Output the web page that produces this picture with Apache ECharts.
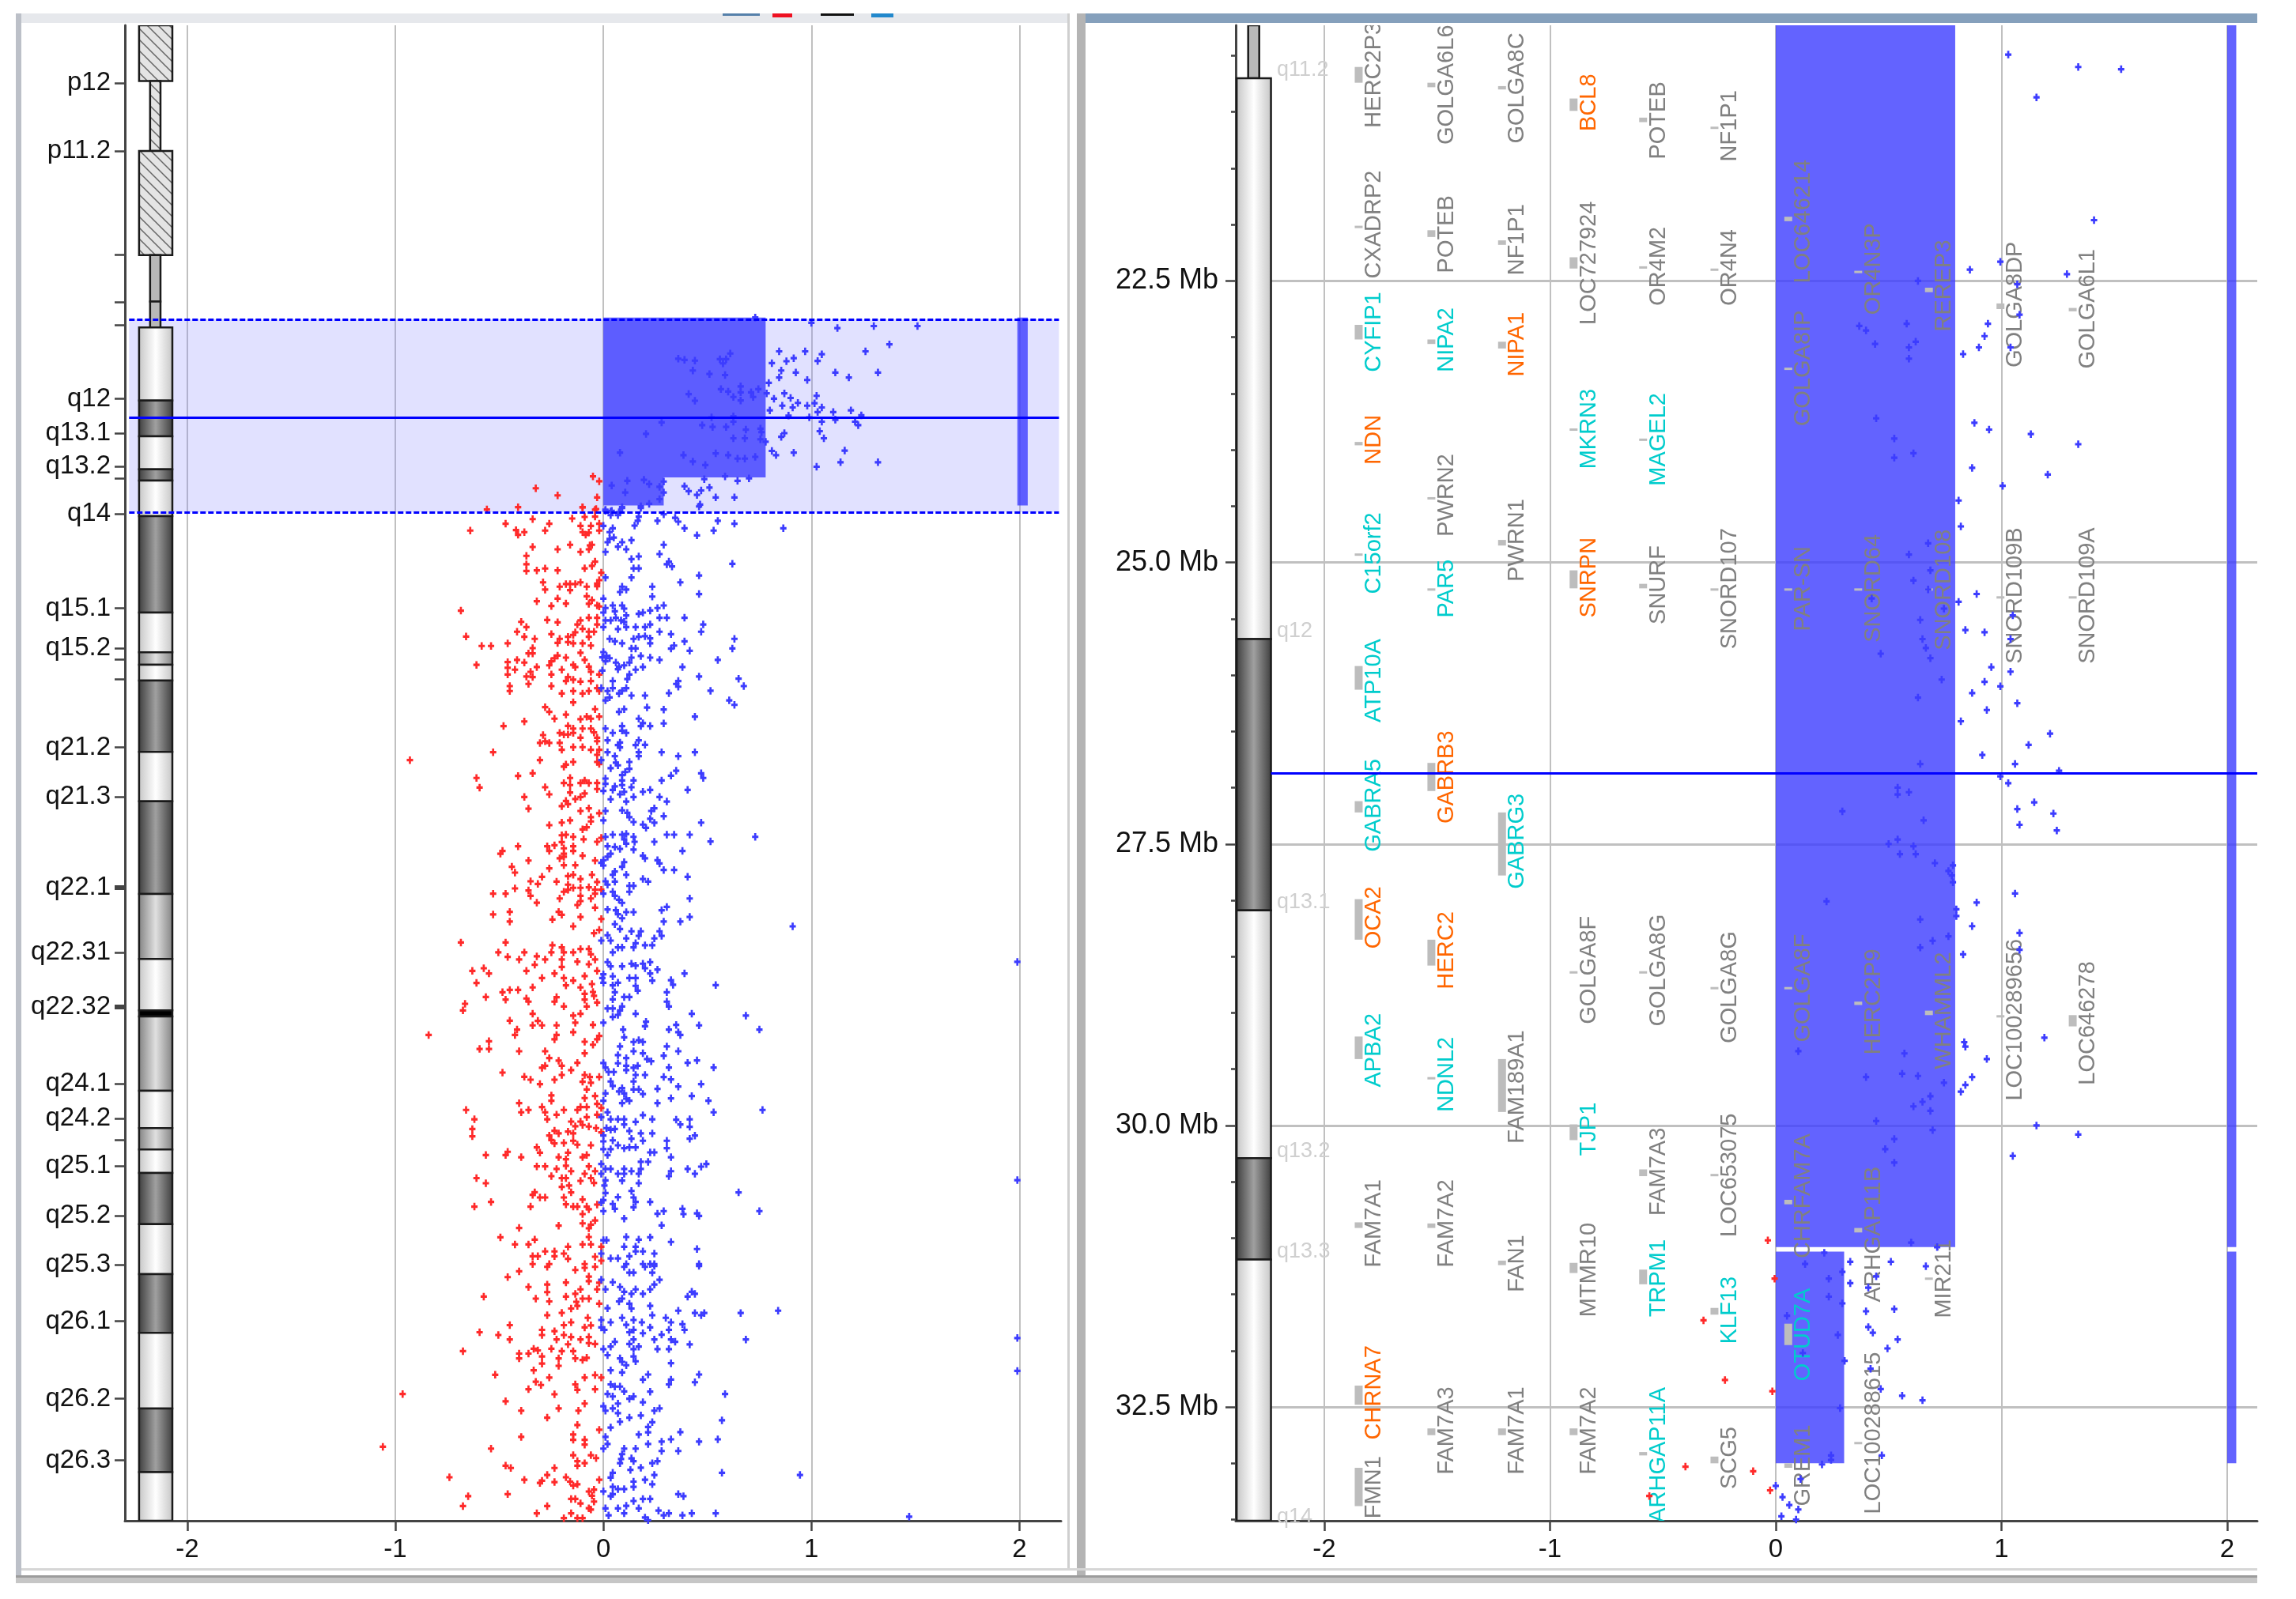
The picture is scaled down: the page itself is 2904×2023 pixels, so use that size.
<!DOCTYPE html>
<html>
<head>
<meta charset="utf-8">
<title>chr15 copy number</title>
<script src="https://cdn.jsdelivr.net/npm/echarts@6/dist/echarts.min.js"></script>
<style>
  html, body { margin: 0; padding: 0; background: #fff; }
  #chart { width: 2904px; height: 2023px; }
</style>
</head>
<body>
<div id="chart"></div>
<script>
// --- data: [log2 ratio, position in Mb] ---
var leftRed = [
[-.56,33.31],[-.41,33.15],[-.10,33.15],[-.04,33.33],[-.04,33.8],[-.34,33.97],[-.15,33.93],[-.09,33.82],[-.47,34.29],[-.26,34.29],[-.11,34.44],[-.06,34.44],[-.02,34.29],[-.64,34.76],[-.42,34.73],[-.38,34.87],[-.41,35.05],[-.28,34.76],[-.10,34.87],[-.085,35.05],[-.07,34.9],[-.02,34.76],[-.34,35.89],[-.22,36.05],[-.16,35.74],[-.11,36.23],[-.07,36.05],[-.065,35.78],[-.055,35.74],[-.37,36.5],[-.37,37.08],[-.37,37.54],[-.32,37.5],[-.28,37.37],[-.22,37.5],[-.09,37.36],[-.055,37.19],[-.04,36.9],[-.01,37.66],[-.29,38.32],[-.28,38.82],[-.21,38.62],[-.18,38.44],[-.16,38.44],[-.16,38.86],[-.135,38.44],[-.11,38.32],[-.08,38.62],[-.03,38.41],[-.02,38.17],[-.03,38.59],[-.08,39.28],[-.22,39.44],[-.32,39.62],[-.25,39.95],[-.18,39.78],[-.055,39.55],[-.07,39.8],[-.03,39.91],[-.02,39.98],[-.685,40.27],[-.27,40.91],[-.22,41.07],[-.395,41.04],[-.37,41.4],[-.07,40.76],[-.03,40.76],[-.11,40.94],[-.125,41.22],[-.03,41.22],[-.10,41.52],[-.415,41.72],[-.25,41.89],[-.135,41.76],[-.145,41.94],[-.17,42.07],[-.07,41.72],[-.045,41.72],[-.07,42.07],[-.38,42.07],[-.33,42.21],[-.66,42.05],[-.21,42.21],[-.22,42.49],[-.17,42.43],[-.145,42.52],[-.10,42.52],[-.06,42.67],[-.585,42.7],[-.54,42.7],[-.46,42.52],[-.34,42.85],[-.36,43.21],[-.34,43.21],[-.11,43.17],[-.22,43.36],[-.235,43.54],[-.25,43.75],[-.26,44.03],[-.18,43.5],[-.09,43.66],[-.415,43.66],[-.46,43.81],[-.38,43.84],[-.61,44.0],[-.32,44.15],[-.145,44.0],[-.135,44.15],[-.07,44.12],[-.06,44.48],[-.46,44.2],[-.425,44.33],[-.46,44.66],[-.20,44.33],[-.02,44.66],[-.25,44.66],[-.35,44.48],[-.37,44.8],[-.34,44.84],[-.17,44.84],[-.145,45.02],[-.18,45.11],[-.11,45.15],[-.06,45.11],[-.36,45.31],[-.45,45.46],[-.45,45.8],[-.25,45.46],[-.20,45.97],[-.145,45.8],[-.10,45.97],[-.07,45.8],[-.03,45.6],[-.02,45.8],[-.145,46.58],[-.28,46.91],[-.26,47.23],[-.235,47.7],[-.18,47.42],[-.04,47.05],[-.02,47.56],[-.08,47.56],[-.11,47.74],[-.06,47.7],[-.38,47.89],[-.48,48.21],[-.17,48.2],[-.145,48.38],[-.10,48.38],[-.06,48.38],[-.045,48.65],[-.21,48.68],[-.19,48.79],[-.17,48.79],[-.145,48.68],[-.29,48.83],[-.03,49.01],[-.11,49.01],[-.28,49.25],[-.305,49.37],[-.26,49.37],[-.21,49.37],[-.03,49.25],[-.53,50.01],[-.20,49.84],[-.145,49.66],[-.10,49.66],[-.06,49.84],[-.02,49.84],[-.03,50.19],
[-.93,50.55],[-.305,50.55],[-.145,50.68],[-.18,50.86],[-.03,50.68],[-.02,50.82],[-.19,51.0],[-.34,51.46],[-.41,51.64],[-.61,51.78],[-.595,52.44],[-.16,51.78],[-.19,52.13],[-.16,52.27],[-.11,52.13],[-.09,51.95],[-.07,52.13],[-.03,52.13],[-.03,52.54],[-.28,52.42],[-.26,52.91],[-.16,52.78],[-.09,52.85],[-.11,53.09],[-.135,53.23],[-.38,53.09],[-.18,53.36],[-.17,53.58],[-.20,53.72],[-.36,53.89],[-.07,53.87],[-.11,54.05],[-.02,54.21],[-.06,54.48],[-.06,54.77],[-.16,54.7],[-.20,54.85],[-.26,55.03],[-.08,55.17],[-.10,55.32],[-.20,55.72],[-.18,55.68],[-.145,55.83],[-.095,56.0],[-.20,56.19],[-.01,55.9],[-.03,56.17],[-.41,56.48],[-.145,56.48],[-.27,56.48],[-.235,56.41],[-.26,56.8],[-.19,56.62],[-.145,56.8],[-.485,56.8],[-.495,56.99],[-.19,56.99],[-.10,57.13],[-.19,57.2],[-.21,57.31],[-.36,57.46],[-.04,57.46],[-.19,57.78],[-.135,57.78],[-.44,57.89],[-.425,58.29],[-.26,58.0],[-.055,58.44],[-.145,58.44],[-.17,58.53],[-.295,58.58],[-.35,58.89],[-.225,58.91],[-.315,59.07],[-.17,59.12],[-.11,58.73],[-.03,58.94],[-.425,59.38],[-.36,59.52],[-.53,59.74],[-.47,59.74],[-.35,59.89],[-.17,59.47],[-.145,59.34],[-.11,59.34],[-.07,59.3],[-.04,59.47],[-.01,59.47],[-.19,59.61],[-.21,60.07],[-.11,59.89],[-.06,60.07],[-.04,59.74],[-.11,60.25],[-.32,60.36],[-.125,60.52],[-.04,60.7],[-.45,60.99],[-.53,61.17],[-.215,60.99],[-.20,61.19],[-.11,61.34],[-.245,61.52],[-.01,61.48],[-.45,61.66],[-.145,61.99],[-.02,62.24],[-.045,62.46],[-.685,63.1],[-.47,63.1],[-.245,63.29],[-.20,63.44],[-.19,63.78],[-.25,63.78],[-.145,63.78],[-.11,63.55],[-.07,63.55],[-.06,63.91],[-.505,63.78],[-.38,63.78],[-.46,64.09],[-.32,64.05],[-.405,64.27],[-.28,64.27],[-.04,64.27],[-.20,64.27],[-.125,64.42],[-.33,64.63],[-.20,64.78],[-.07,64.6],[-.575,64.87],[-.63,65.05],[-.55,65.23],[-.37,65.05],[-.03,65.05],[-.235,65.23],[-.09,65.41],[-.295,65.54],[-.19,65.54],[-.145,65.72],[-.61,65.88],[-.18,66.05],[-.055,65.96],[-.11,66.19],[-.34,66.19],[-.45,66.36],[-.41,66.36],[-.485,66.52],[-.09,66.63],[-.05,66.5],[-.045,66.77],[-.565,66.85],[-.47,67.03],[-.37,66.95],[-.36,67.17],[-.225,66.86],[-.235,67.17],[-.09,67.03],[-.03,67.23],[-.665,67.32],[-.19,67.5],[-.08,67.5],[-.675,67.77],
[-.34,68.0],[-.145,68.13],[-.11,68.0],[-.45,68.48],[-.315,68.49],[-.135,68.62],[-.34,68.8],[-.295,68.8],[-.225,68.8],[-.05,68.77],[-.415,69.09],[-.425,69.46],[-.84,69.46],[-.145,69.27],[-.225,69.46],[-.235,69.76],[-.02,69.53],[-.03,69.76],[-.55,69.89],[-.595,70.42],[-.55,70.42],[-.09,69.93],[-.05,70.13],[-.405,70.58],[-.28,70.58],[-.09,70.72],[-.26,71.05],[-.215,71.23],[-.20,71.58],[-.28,71.58],[-.295,71.72],[-.125,71.38],[-.155,71.88],[-.485,72.05],[-.20,72.21],[-.38,72.34],[-.35,72.54],[-.235,72.54],[-.09,72.21],[-.065,72.35],[-.02,72.35],[-.10,72.68],[-.06,72.75],[-.305,72.84],[-.08,73.21],[-.25,73.62],[-.25,73.99],[-.09,73.8],[-.04,73.66],[-.03,74.2],[-.405,74.15],[-.66,74.62],[-.36,74.62],[-.295,74.42],[-.395,74.78],[-.28,74.78],[-.19,74.62],[-.125,74.62],[-.11,74.42],[-.08,74.42],[-.01,74.48],[-.225,74.95],[-.03,74.95],[-.08,75.11],[-.62,75.26],[-.27,75.26],[-.155,75.42],[-.11,75.42],[-.63,75.93],[-.135,75.74],[-.10,75.65],[-.07,75.76],[-.035,75.87],[-.235,76.05],[-.215,76.23],[-.17,76.11],[-.145,76.23],[-.26,76.38],[-.63,76.43],[-.01,76.16],[-.25,76.69],[-.145,76.74],[-.235,76.92],[-.19,76.89],[-.125,77.01],[-.06,77.05],[-.32,77.19],[-.305,77.56],[-.17,77.56],[-.565,77.72],[-.47,77.72],[-.46,77.5],[-.395,77.87],[-.215,77.87],[-.10,77.87],[-.08,77.72],[-.18,78.01],[-.07,78.5],[-.32,78.5],[-.28,78.5],[-.18,78.46],[-.225,78.68],[-.155,78.83],[-.04,78.83],[-.09,79.01],[-.25,79.17],[-.20,79.31],[-.18,79.31],[-.61,79.31],[-.565,79.66],[-.11,79.5],[-.06,79.31],[-.045,79.64],[-.20,79.91],[-.165,79.82],[-.155,80.29],[-.33,80.28],[-.34,80.46],[-.305,80.64],[-.28,80.64],[-.19,80.64],[-.10,80.78],[-.54,80.95],[-.62,81.27],[-.35,81.27],[-.18,81.11],[-.145,81.27],[-.125,81.27],[-.08,81.27],[-.07,81.45],[-.03,81.13],[-.10,81.78],[-.10,82.42],[-.04,82.22],[-.06,82.51],[-.07,82.76],[-.215,82.58],[-.405,82.74],[-.495,83.38],[-.33,83.54],[-.07,83.36],[-.425,83.87],[-.36,83.87],[-.17,84.03],[-.10,83.87],[-.06,83.87],[-.01,84.03],[-.28,84.35],[-.235,84.35],[-.19,84.5],[-.235,84.68],[-.34,84.68],[-.315,84.68],[-.17,84.86],[-.04,84.72],[-.01,84.99],[-.34,85.22],[-.26,85.22],[-.09,85.22],
[-.27,85.41],[-.405,85.72],[-.135,85.63],[-.09,85.48],[-.04,85.41],[-.46,86.12],[-.07,86.08],[-.07,86.4],[-.02,86.51],[-.18,86.49],[-.36,86.8],[-.27,86.63],[-.27,87.15],[-.11,86.96],[-.03,86.96],[-.135,87.27],[-.575,87.46],[-.325,87.6],[-.18,87.46],[-.10,87.6],[-.07,87.6],[-.26,87.79],[-.13,87.82],[-.02,87.95],[-.125,88.1],[-.155,88.28],[-.20,88.58],[-.27,88.74],[-.075,88.92],[-.45,89.42],[-.155,89.23],[-.19,89.42],[-.09,89.58],[-.06,89.44],[-.295,89.75],[-.235,89.84],[-.595,89.91],[-.295,90.1],[-.505,90.1],[-.19,90.1],[-.155,90.24],[-.07,90.24],[-.45,90.41],[-.225,90.41],[-.11,90.41],[-.17,90.74],[-.07,90.66],[-.04,90.72],[-.675,91.21],[-.25,91.05],[-.335,91.05],[-.315,91.16],[-.20,91.21],[-.145,91.21],[-.405,91.38],[-.36,91.38],[-.295,91.58],[-.405,91.71],[-.215,91.71],[-.135,91.71],[-.10,91.82],[-.08,91.67],[-.295,92.07],[-.215,92.22],[-.335,92.53],[-.52,92.84],[-.26,93.03],[-.09,93.03],[-.04,92.86],[-.01,93.03],[-.325,93.32],[-.30,93.54],[-.135,93.5],[-.125,93.87],[-.36,93.83],[-.04,93.83],[-.965,94.16],[-.235,94.18],[-.47,94.66],[-.09,94.82],[-.215,95.15],[-.395,95.31],[-.12,95.31],[-.27,95.79],[-.125,96.29],[-.02,96.62],[-.145,96.95],[-.395,97.11],[-.145,97.31],[-.09,97.31],[-.09,97.64],[-.54,97.92],[-1.06,97.79],[-.145,98.37],[-.06,98.37],[-.035,98.57],[-.125,98.78],[-.09,98.92],[-.125,99.09],[-.47,99.09],[-.445,99.25],[-.235,99.25],[-.27,99.73],[-.74,99.89],[-.18,99.89],[-.38,100.06],[-.295,100.13],[-.02,100.06],[-.235,100.22],[-.16,100.19],[-.305,100.28],[-.145,100.46],[-.125,100.37],[-.045,100.74],[-.07,100.87],[-.055,101.16],[-.46,101.05],[-.65,101.19],[-.155,101.38],[-.135,101.38],[-.045,101.56],[-.11,101.69],[-.675,101.87],[-.27,101.87],[-.07,102.02],[-.06,102.11],[-.32,102.37],[-.155,102.37],[-.19,102.7],[-.125,102.7],[-.10,102.7],
[-.05,31.03],[-.02,31.37],[-.325,31.85],[-.22,32.34],[-.03,32.48],[-.10,33.16],[-.035,33.28]
];
var leftBlue = [
[.73,20.1],[1.0,20.47],[1.125,20.83],[1.30,20.69],[1.51,20.69],[1.375,21.95],[1.26,22.43],[.845,22.43],[.97,22.43],[1.05,22.63],[.61,22.58],[.36,22.94],[.39,23.02],[.44,23.07],[.56,22.97],[.59,22.97],[.575,23.26],[.81,23.24],[.88,23.11],[.915,22.9],[1.03,23.09],[.43,23.75],[.51,23.99],[.585,24.06],[.855,23.75],[.925,23.89],[1.115,23.89],[1.32,23.89],[.845,24.23],[.98,24.4],[1.18,24.23],[.795,24.6],[.565,25.03],[.60,25.2],[.66,24.84],[.66,25.25],[.71,25.25],[.745,25.03],[.625,25.57],[.66,25.81],[.72,25.57],[.41,25.37],[.44,25.83],[.785,25.32],[.87,25.32],[.82,25.69],[.90,25.64],[1.025,25.49],[.86,26.17],[.91,26.29],[.935,25.98],[.98,26.17],[1.015,26.0],[1.05,26.29],[.80,26.49],[1.03,26.61],[1.105,26.61],[1.19,26.49],[1.24,26.83],[.89,26.85],[.99,26.97],[1.05,27.27],[1.115,27.14],[1.21,27.27],[1.225,27.51],[.28,27.32],[.52,26.97],[.625,26.9],[.625,27.27],[.475,27.51],[.525,27.63],[.59,27.63],[.685,27.82],[.755,27.75],[.76,27.99],[.205,28.11],[.87,28.06],[.855,28.31],[1.04,27.92],[1.06,28.41],[.625,28.41],[.68,28.41],[.755,28.48],[.78,28.65],[.08,29.4],[.385,29.57],[.54,29.45],[.60,29.57],[.645,29.81],[.68,29.81],[.73,29.69],[.81,29.28],[.83,29.57],[.915,29.4],[1.16,29.26],[1.14,30.06],[1.32,30.06],[.43,30.01],[.49,30.25],[1.025,30.37],[.115,31.34],[.04,31.66],[.195,31.27],[.22,31.56],[.29,31.39],[.27,31.75],[.39,31.71],[.41,32.05],[.485,31.22],[.51,31.8],[.585,31.03],[.645,31.34],[.70,31.17],[.105,32.14],[.29,32.14],[.47,32.0],[.45,32.31],[.54,32.48],[.63,32.48],[.27,32.6],[.465,32.97],[.22,32.92],[.18,33.09],[.09,33.21],[.01,33.4],[.04,33.4],[.08,33.5],
[.01,33.33],[.035,33.46],[.075,33.5],[.09,33.15],[.18,33.2],[.46,33.1],[.035,33.7],[.07,33.7],[.17,33.8],[.29,33.64],[.345,33.88],[.26,34.09],[.36,34.15],[.55,34.09],[.63,34.29],[.165,34.09],[.15,34.42],[0,34.44],[.045,34.6],[.39,34.6],[.865,34.6],[.53,34.76],[.03,34.87],[.45,35.09],[.05,35.24],[.03,35.33],[.02,35.56],[.135,35.42],[.09,35.56],[.07,35.87],[.11,36.05],[.29,35.74],[.01,36.23],[.27,36.38],[.17,36.54],[.135,36.72],[.315,36.9],[.305,37.08],[.33,37.23],[.62,37.05],[.145,37.36],[.17,37.36],[.46,37.85],[.01,37.99],[.135,37.99],[.37,38.32],[.235,38.62],[.09,38.62],[.11,38.82],[.08,38.99],[.46,39.13],[.235,39.3],[0,39.44],[.01,40.09],[.045,39.91],[.09,39.91],[.10,40.13],[0,40.4],[.055,40.31],[.17,40.49],[.19,40.4],[.225,40.26],[.26,40.09],[.29,39.91],[.11,40.6],[.06,40.76],[.27,40.76],[.305,40.76],[.39,40.76],[.01,40.94],[.035,40.94],[.085,40.94],[0,41.4],[.10,41.04],[.48,41.22],[.07,41.54],[.11,41.4],[.155,41.4],[.20,41.4],[.225,41.22],[.27,41.72],[.325,41.89],[.47,41.72],[.03,42.21],[.055,42.38],[.09,42.52],[.145,42.21],[.17,42.07],[.20,42.03],[.225,42.18],[.225,42.52],[.39,42.38],[.63,42.21],[.34,42.67],[.325,42.88],[.415,43.03],[.62,42.87],[.135,42.87],[.155,42.87],[0,43.12],[-.005,43.48],[.015,43.39],[.03,43.54],[.01,43.75],[.18,43.39],[.135,43.5],[.225,43.5],[.27,43.66],[.125,43.84],[.55,43.66],[.06,43.84],[.075,44.12],[.10,44.03],[.07,44.3],[.19,44.15],[.155,44.33],[.38,44.15],[-.005,44.39],[.125,44.66],[.46,44.8],[.65,44.95],[.115,44.98],[.045,45.11],[.36,45.11],[.35,45.31],[.36,45.5],[.675,45.46],[-.01,45.6],[.045,45.6],[.02,45.8],[.11,45.6],[.09,45.78],[.075,45.97],[.135,46.11],[.20,46.11],[.315,45.95],[.515,45.78],[.03,46.24],[.01,46.44],[.605,46.44],[.63,46.75],[.10,47.05],[.075,47.23],[.21,46.93],[.29,47.07],[.44,47.56],[.17,47.7],[.19,48.01],[.18,48.21],[.225,48.21],[.29,48.03],[.09,48.21],[.01,48.38],[.09,48.52],[.11,48.68],[.045,48.68],[.17,49.19],[.02,49.19],[.08,49.34],[.155,49.52],[.07,49.52],[.08,49.68],[.20,49.5],[.02,50.01],[.17,50.01],[.28,50.01],[.44,50.01],[.055,50.28],[.17,50.28],[.36,50.28],
[.06,50.73],[.07,50.91],[.125,50.68],[-.01,50.55],[.035,51.11],[.125,51.15],[.105,51.37],[.09,51.58],[.35,51.28],[.325,51.62],[.47,51.46],[.48,51.78],[.01,51.82],[.09,51.95],[.145,51.95],[.28,51.95],[.01,52.18],[.09,52.27],[.135,52.42],[.055,52.36],[.405,52.6],[0,52.67],[.045,52.6],[.10,52.73],[.08,52.91],[.19,52.73],[.225,52.6],[.145,53.09],[.27,53.09],[.035,53.25],[.11,53.4],[.305,53.4],[.01,54.05],[.09,54.01],[.245,53.87],[.23,54.05],[.115,54.18],[.125,54.48],[.29,54.41],[.225,54.59],[0,54.7],[.145,54.81],[.245,54.86],[.47,54.85],[.19,54.99],[.205,55.21],[.01,55.83],[.045,55.68],[.09,55.68],[.11,55.63],[.145,55.83],[.305,55.68],[.34,55.68],[.415,55.68],[.73,55.83],[.10,56.0],[.15,56.17],[.245,56.17],[.515,56.15],[.11,56.3],[.145,56.71],[.02,56.48],[.055,56.53],[.08,56.66],[.38,56.8],[.035,56.99],[.02,57.2],[0,57.44],[-.01,57.62],[0,57.8],[.10,57.57],[.09,57.89],[.19,57.13],[.20,57.31],[.26,57.44],[.27,57.66],[.29,58.11],[.34,58.11],[.405,58.58],[.055,58.22],[.045,58.44],[.11,58.44],[.19,58.73],[.215,58.91],[.01,58.89],[.02,59.12],[.055,58.91],[.125,59.2],[.145,59.2],[.125,59.61],[0,59.74],[.045,59.61],[.055,59.89],[.075,60.16],[.09,60.37],[.415,60.07],[.305,60.65],[.28,60.88],[.02,60.83],[.06,60.88],[.11,61.01],[.145,61.01],[.07,61.15],[.09,61.43],[.415,61.34],[.29,61.66],[.37,61.66],[.91,61.99],[.055,61.84],[.08,62.17],[.135,62.33],[.18,62.33],[.27,62.33],[.28,62.64],[.17,62.64],[.02,62.6],[.035,62.97],[-.01,62.97],[.11,62.82],[.245,62.82],[.155,63.15],[.145,63.44],[.09,63.44],[.07,63.44],[.045,63.78],[.20,63.29],[.235,63.29],[1.99,64.43],[.02,64.45],[.035,64.74],[.09,64.74],[.135,64.56],[.155,64.69],[.19,64.56],[.225,64.45],[.20,64.87],[.26,64.96],[.225,65.23],[.39,65.23],[0,65.29],[-.005,65.54],[0,65.87],[.045,65.43],[.125,65.54],[.155,65.54],[.235,65.72],[.325,65.69],[.335,66.01],[.54,66.03],[.07,65.87],[.045,66.05],[.155,66.08],[.165,66.41],[.055,66.52],[.305,66.52],[.10,66.85],[.125,66.85],[.045,67.01],[.305,67.17],[.315,67.5],[.02,67.64],[.045,67.64],[.09,67.5],[.08,67.77],
[.045,68.22],[.07,68.08],[.155,68.0],[.425,68.0],[.685,68.13],[0,68.62],[.205,68.55],[.35,68.77],[.46,68.8],[.2,68.86],[.315,69.09],[.095,69.09],[.36,69.27],[.37,69.46],[.75,69.09],[.10,69.62],[.17,69.82],[.145,69.94],[.19,69.94],[.08,70.25],[.305,70.25],[.145,70.58],[.36,70.58],[.19,70.72],[.07,70.85],[.29,70.89],[.11,71.05],[.21,71.12],[.23,71.27],[.07,71.41],[0,71.39],[.405,71.38],[.45,71.21],[.11,71.58],[.165,71.58],[.145,71.72],[.315,71.7],[.53,71.7],[.01,71.7],[.025,72.01],[.05,72.01],[.11,71.88],[.155,72.21],[.20,72.21],[.29,72.35],[.325,72.52],[.145,72.66],[.035,72.66],[.045,72.97],[.36,73.01],[.47,72.84],[.09,73.12],[.075,73.35],[.145,73.21],[.17,73.21],[.26,73.17],[.19,73.52],[.10,73.48],[.01,73.48],[.11,73.84],[0,73.99],[.125,73.99],[.09,74.15],[.26,74.15],[.325,73.82],[.425,73.66],[.505,73.99],[.02,74.78],[.53,74.78],[.765,74.62],[.19,74.98],[-.01,75.11],[.035,75.26],[.07,75.26],[.10,75.26],[.235,75.26],[.35,75.29],[.155,75.44],[.10,75.62],[.37,75.62],[.415,75.26],[.415,75.78],[.015,75.87],[.035,75.98],[.055,75.93],[.125,76.07],[.18,76.23],[.235,76.23],[.44,76.38],[.415,76.6],[0,76.38],[.135,76.6],[.305,76.74],[0,76.78],[.045,76.71],[.19,76.74],[.07,77.05],[.10,77.25],[.125,77.19],[.155,77.19],[.305,77.25],[0,77.32],[.035,77.32],[.02,77.72],[.225,77.54],[.245,77.54],[.325,77.87],[.18,78.19],[.215,78.19],[-.01,78.34],[.495,78.34],[.47,78.52],[.01,78.68],[.035,78.68],[.10,78.68],[.18,78.68],[.405,78.68],[.325,78.83],[-.01,79.01],[.07,79.01],[.10,79.01],[.135,78.83],[.17,79.01],[.44,79.01],[.315,79.17],[1.99,79.45],[.01,79.46],[.09,79.48],[.17,79.66],[.005,79.82],[.01,80.33],[.135,80.19],[.65,80.29],[.07,80.62],[.145,80.64],[.155,80.95],[0,80.82],[-.01,80.98],[.225,80.95],[.045,81.09],[.145,81.31],[.055,81.42],[0,81.58],[.38,81.42],[.29,81.58],[.26,81.76],[.385,81.78],[.45,81.73],[.46,81.91],[.75,81.58],[.10,82.09],[.28,82.56],[0,83.58],[.015,83.58],[.11,83.36],[.17,83.54],[.225,83.38],[.325,83.7],[.10,84.03],[.155,84.03],[.155,84.35],[.19,84.35],[.45,84.19],[.245,84.5],[-.01,84.5],[.125,84.68],[.035,84.83],[.07,84.83],[.11,85.22],[.19,85.22],[.225,85.22],[.245,85.22],[.46,85.22],
[.10,85.41],[.20,85.41],[.245,85.35],[.46,85.35],[.125,85.81],[.145,85.81],[.235,85.81],[-.01,86.3],[.27,86.3],[.045,86.47],[.245,86.63],[.08,86.8],[.01,86.96],[.155,86.96],[.225,86.96],[.10,87.13],[.135,87.27],[.19,87.27],[.425,87.13],[.44,87.27],[.405,87.46],[.09,87.6],[.075,87.79],[.125,87.95],[.135,88.28],[.225,88.1],[.02,88.26],[.36,88.43],[.44,88.59],[.485,88.59],[.47,88.74],[.66,88.59],[.84,88.43],[.235,88.74],[.09,88.92],[.30,88.92],[-.01,89.07],[.145,89.07],[.035,89.23],[.185,89.23],[.325,89.23],[.38,89.36],[.11,89.4],[-.01,89.58],[.225,89.58],[.39,89.75],[.315,89.75],[.005,89.75],[.145,89.75],[.125,89.91],[.19,89.98],[.28,90.08],[.245,90.41],[.145,90.41],[.325,90.41],[1.99,90.31],[.055,90.57],[.345,90.57],[.685,90.41],[.125,90.72],[.415,90.75],[.035,90.9],[.17,90.9],[0,91.07],[.145,91.07],[.26,91.07],[.315,91.07],[.02,91.49],[.08,91.71],[.145,91.58],[.155,91.91],[.09,91.95],[.11,92.18],[.325,92.04],[1.99,92.57],[.035,92.53],[.09,92.68],[.215,92.82],[.46,92.82],[.19,93.17],[.325,93.17],[.44,93.35],[.315,93.5],[.035,93.5],[.055,93.65],[.08,93.65],[.10,93.98],[.225,94.0],[.02,94.16],[.045,94.33],[.585,94.16],[.125,94.49],[.145,94.33],[.19,94.73],[.07,94.82],[0,95.0],[.045,95.15],[.01,95.31],[.07,95.48],[.27,95.15],[.245,95.31],[.125,95.79],[.18,95.64],[.08,96.07],[.235,96.1],[.57,95.97],[.215,96.43],[.035,96.47],[.17,96.95],[.215,96.8],[.37,96.78],[.01,97.11],[.325,97.28],[.55,97.28],[.28,97.44],[.46,97.44],[.02,97.6],[.215,97.6],[0,97.92],[.10,97.92],[.155,97.92],[.28,98.08],[.36,98.08],[.09,98.3],[.135,98.59],[.085,98.63],[.145,98.78],[.26,98.78],[.235,98.92],[.08,98.92],[.18,99.23],[.13,99.38],[.045,99.58],[.245,99.73],[.57,99.58],[.945,99.73],[.035,99.91],[.20,100.06],[.145,100.19],[.235,100.37],[.045,100.55],[.145,100.55],[.07,100.7],[.10,100.7],[0,100.86],[.045,101.05],[.36,101.05],[.385,101.19],[.035,101.19],[.19,101.38],[.225,101.38],[.145,101.52],[.11,101.85],[.01,102.03],[.07,102.03],[.17,102.03],[.265,102.18],[.10,102.37],[.315,102.37],[.29,102.51],[.38,102.51],[.425,102.37],[.54,102.37],[.025,102.51],[.20,102.66],[.215,102.84],[1.47,102.6]
];
var rightRed = [[-.035,31.02],[-.005,31.36],[-.32,31.73],[-.225,32.26],[-.015,32.36],[-.40,33.03],[-.10,33.07],[-.025,33.24],[-.56,33.29]];
var rightBlue = [
[1.03,20.49],[1.34,20.6],[1.53,20.62],[1.155,20.87],[1.41,21.96],[.86,22.4],[.995,22.33],[1.29,22.44],[.63,22.5],[1.07,22.53],[1.08,22.8],[.94,22.88],[.58,22.88],[.37,22.9],[.40,22.94],[.925,22.99],[.44,23.06],[.62,23.04],[.59,23.09],[.90,23.09],[1.04,23.09],[.83,23.15],[.59,23.19],[.445,23.72],[.88,23.76],[.945,23.82],[1.13,23.86],[1.34,23.95],[.525,23.9],[.525,24.07],[.61,24.03],[.87,24.16],[1.205,24.22],[1.005,24.32],[.81,24.45],[.82,24.68],[.675,24.83],[.59,24.93],[.685,25.07],[.61,25.16],[.675,25.24],[.89,25.28],[.81,25.35],[.425,25.32],[.745,25.41],[1.05,25.47],[.64,25.51],[.84,25.6],[.925,25.62],[1.04,25.68],[.65,25.68],[.665,25.76],[.465,25.81],[.685,25.85],[.955,25.93],[1.04,25.97],[.735,26.04],[.925,26.06],[.995,26.1],[.87,26.16],[.63,26.2],[1.07,26.25],[.935,26.31],[.82,26.41],[1.215,26.52],[1.12,26.62],[.915,26.71],[.64,26.79],[1.06,26.79],[1.255,26.85],[.995,26.9],[1.03,26.96],[.54,27.0],[.54,27.06],[.59,27.04],[1.145,27.13],[1.07,27.19],[.295,27.21],[1.23,27.23],[.655,27.29],[1.08,27.33],[1.245,27.38],[.54,27.46],[.50,27.5],[.61,27.52],[.55,27.59],[.62,27.59],[.705,27.67],[.785,27.69],[.765,27.74],[.78,27.78],[.785,27.84],[1.06,27.94],[.225,28.01],[.89,28.02],[.80,28.08],[.80,28.14],[.64,28.17],[.87,28.23],[1.08,28.29],[.765,28.32],[.695,28.36],[.64,28.42],[.83,28.48],[1.08,28.44],[.835,29.26],[.84,29.3],[1.19,29.22],[.10,29.34],[.57,29.36],[.935,29.41],[.40,29.57],[.56,29.54],[.63,29.56],[.87,29.57],[.84,29.64],[.745,29.62],[.82,29.7],[.685,29.74],[.65,29.79],[.61,29.83],[.685,29.87],[.445,29.96],[1.155,30.0],[.695,30.04],[1.34,30.08],[.525,30.12],[.485,30.21],[1.05,30.27],[.525,30.33],[.60,31.04],[.715,31.08],[.215,31.13],[.33,31.21],[.51,31.21],[.13,31.23],[.665,31.25],[.295,31.3],[.445,31.34],[.235,31.36],[.33,31.4],[.41,31.44],[.235,31.52],[.295,31.58],[.40,31.65],[.525,31.63],[.05,31.69],[.41,31.79],[.43,31.84],[.275,31.86],[.54,31.9],[.495,31.98],[.12,32.02],[.305,32.09],[.42,32.16],[.465,32.34],[.56,32.4],[.65,32.44],[.285,32.51],[.47,32.93],[.245,32.93],[.245,32.97],[.205,33.01],[.11,33.14],[0,33.2],[.03,33.3],[.06,33.37],[.10,33.41],[.025,33.47],[.09,33.5]
];

// segments: [x from, x to, Mb from, Mb to]
var leftSegments = [[0,.78,20.1,31.1],[0,.29,31.1,33.04],[1.99,2.04,20.1,33.04]];
var rightSegments = [[0,.795,20.23,31.08],[0,.303,31.12,33.0],[2.0,2.04,20.23,31.08],[2.0,2.04,31.12,33.0]];
var windowStart = 20.23, windowEnd = 33.5, cursorLeft = 26.97, cursorRight = 26.87;

// cytobands: [from Mb, to Mb, stain]
var leftBands = [
[0,3.84,'hatch'],[3.84,8.65,'hatchThin'],[8.65,15.81,'hatch'],[15.81,19.01,'stalk'],[19.01,20.78,'stalk'],
[20.78,25.81,'white'],[25.81,28.28,'dark'],[28.28,30.54,'white'],[30.54,31.32,'dark'],[31.32,33.77,'white'],
[33.77,40.4,'dark'],[40.4,43.14,'white'],[43.14,43.99,'mid'],[43.99,45.08,'white'],[45.08,49.98,'dark'],[49.98,53.38,'white'],
[53.38,59.76,'dark'],[59.76,64.23,'mid'],[64.23,67.77,'white'],[67.77,68.19,'black'],[68.19,73.3,'mid'],[73.3,75.87,'white'],
[75.87,77.34,'mid'],[77.34,78.95,'white'],[78.95,82.48,'dark'],[82.48,85.91,'white'],[85.91,89.95,'dark'],[89.95,95.16,'white'],
[95.16,99.53,'dark'],[99.53,102.88,'white']
];
var rightBands = [[20.23,20.7,'stalk'],[20.7,25.68,'white'],[25.68,28.09,'dark'],[28.09,30.29,'white'],[30.29,31.19,'dark'],[31.19,33.51,'white']];
var bandTicks = [3.96,8.65,15.78,19.04,20.64,25.69,28.07,30.35,31.17,33.62,40.1,42.87,43.65,44.96,49.67,53.07,59.33,63.77,67.51,72.82,75.22,76.67,78.47,81.88,85.27,89.16,94.49,98.72];
var bandNames = ['p12','p11.2','','','','q12','q13.1','q13.2','','q14','q15.1','q15.2','','','q21.2','q21.3','q22.1','q22.31','q22.32','q24.1','q24.2','','q25.1','q25.2','q25.3','q26.1','q26.2','q26.3'];
var thickBandTicks = [59.33,67.51];
var zoomBandNames = ['q11.2','q12','q13.1','q13.2','q13.3','q14'];
var zoomBandMb = [20.63,25.61,28.02,30.23,31.12,33.48];

var xTicks = [-2,-1,0,1,2];
var mbTicks = [22.5,25,27.5,30,32.5];
var mbMinorTicks = [20.5,21,21.5,22,23,23.5,24,24.5,25.5,26,26.5,27,28,28.5,29,29.5,30.5,31,31.5,32,33,33.5];

// genes: [name, lane, label foot Mb, from Mb, to Mb, class]
var genes = [
['HERC2P3',0,21.14,20.6,20.74,0],['CXADRP2',0,22.48,22.01,22.03,0],['CYFIP1',0,23.31,22.89,23.02,1],['NDN',0,24.13,23.93,23.96,2],['C15orf2',0,25.28,24.92,24.94,1],['ATP10A',0,26.42,25.92,26.13,1],['GABRA5',0,27.57,27.12,27.22,1],['OCA2',0,28.43,27.99,28.35,2],['APBA2',0,29.66,29.21,29.41,1],['FAM7A1',0,31.26,30.86,30.91,0],['CHRNA7',0,32.79,32.31,32.48,2],['FMN1',0,33.49,33.04,33.38,0],
['GOLGA6L6',1,21.29,20.74,20.78,0],['POTEB',1,22.43,22.05,22.11,0],['NIPA2',1,23.31,23.02,23.06,1],['PWRN2',1,24.77,24.42,24.44,0],['PAR5',1,25.49,25.23,25.25,1],['GABRB3',1,27.32,26.78,27.03,2],['HERC2',1,28.79,28.35,28.58,2],['NDNL2',1,29.88,29.57,29.59,1],['FAM7A2',1,31.26,30.87,30.91,0],['FAM7A3',1,33.1,32.69,32.75,0],
['GOLGA8C',2,21.28,20.77,20.8,0],['NF1P1',2,22.45,22.14,22.18,0],['NIPA1',2,23.35,23.04,23.1,2],['PWRN1',2,25.17,24.8,24.85,0],['GABRG3',2,27.9,27.22,27.78,1],['FAM189A1',2,30.16,29.41,29.88,0],['FAN1',2,31.48,31.2,31.24,0],['FAM7A1',2,33.1,32.69,32.75,0],
['BCL8',3,21.17,20.88,20.99,2],['LOC727924',3,22.89,22.29,22.39,0],['MKRN3',3,24.17,23.81,23.83,1],['SNRPN',3,25.49,25.07,25.23,2],['GOLGA8F',3,29.1,28.63,28.64,0],['TJP1',3,30.27,29.99,30.13,1],['MTMR10',3,31.7,31.22,31.31,0],['FAM7A2',3,33.1,32.69,32.75,0],
['POTEB',4,21.42,21.05,21.09,0],['OR4M2',4,22.72,22.37,22.38,0],['MAGEL2',4,24.32,23.9,23.92,1],['SNURF',4,25.55,25.19,25.23,0],['GOLGA8G',4,29.12,28.63,28.64,0],['FAM7A3',4,30.8,30.39,30.45,0],['TRPM1',4,31.7,31.28,31.41,1],['ARHGAP11A',4,33.53,32.9,32.93,1],
['NF1P1',5,21.44,21.13,21.15,0],['OR4N4',5,22.72,22.39,22.41,0],['SNORD107',5,25.77,25.23,25.25,0],['GOLGA8G',5,29.27,28.77,28.79,0],['LOC653075',5,30.99,30.43,30.45,0],['KLF13',5,31.94,31.62,31.68,1],['SCG5',5,33.23,32.94,33.0,0],
['LOC646214',6,22.52,21.93,21.97,0],['GOLGA8IP',6,23.79,23.27,23.28,0],['PAR-SN',6,25.61,25.23,25.25,0],['GOLGA8F',6,29.26,28.77,28.79,0],['CHRFAM7A',6,31.18,30.66,30.7,0],['OTUD7A',6,32.27,31.76,31.95,1],['GREM1',6,33.38,33.0,33.04,0],
['OR4N3P',7,22.8,22.41,22.43,0],['SNORD64',7,25.71,25.23,25.25,0],['HERC2P9',7,29.37,28.9,28.93,0],['ARHGAP11B',7,31.57,30.91,30.95,0],['LOC100288615',7,33.45,32.81,32.83,0],
['REREP3',8,22.95,22.56,22.6,0],['SNORD108',8,25.78,25.23,25.25,0],['WHAMML2',8,29.5,28.98,29.02,0],['MIR211',8,31.71,31.35,31.37,0],
['GOLGA8DP',9,23.27,22.7,22.75,0],['SNORD109B',9,25.9,25.3,25.32,0],['LOC100289656',9,29.78,29.02,29.04,0],
['GOLGA6L1',10,23.28,22.74,22.77,0],['SNORD109A',10,25.9,25.3,25.32,0],['LOC646278',10,29.64,29.02,29.12,0]
];

var FONT = '"Liberation Sans", Arial, sans-serif';
var laneX = [-1.78,-1.458,-1.145,-.828,-.52,-.204,.123,.433,.746,1.063,1.383];
var geneColors = ['#808080','#00cccc','#ff6600'];
var segColor = 'rgba(60,60,255,0.8)';
var plus = 'path://M3,0h3v3h3v3h-3v3h-3v-3h-3v-3h3z';

var chart = echarts.init(document.getElementById('chart'));

// hatch tile for the p arm
var hatchTile = document.createElement('canvas');
hatchTile.width = hatchTile.height = 14;
(function () {
  var c = hatchTile.getContext('2d');
  c.fillStyle = '#e4e4e4'; c.fillRect(0, 0, 14, 14);
  c.strokeStyle = '#666'; c.lineWidth = 1.5;
  c.beginPath(); c.moveTo(-2, -2); c.lineTo(16, 16); c.moveTo(-9, 5); c.lineTo(9, 23); c.moveTo(5, -9); c.lineTo(23, 9); c.stroke();
})();

function grad(edge, middle) {
  return new echarts.graphic.LinearGradient(0, 0, 1, 0, [
    { offset: 0, color: edge }, { offset: .5, color: middle }, { offset: 1, color: edge }
  ]);
}
var stains = {
  white: function () { return grad('#c4c4c4', '#ffffff'); },
  dark: function () { return grad('#3c3c3c', '#a0a0a0'); },
  mid: function () { return grad('#808080', '#e0e0e0'); },
  black: function () { return '#000'; },
  stalk: function () { return '#b8b8b8'; },
  hatch: function () { return { image: hatchTile, repeat: 'repeat' }; },
  hatchThin: function () { return { image: hatchTile, repeat: 'repeat' }; }
};

function rectRender(fill) {
  return function (params, api) {
    var a = api.coord([api.value(0), api.value(2)]);
    var b = api.coord([api.value(1), api.value(3)]);
    return { type: 'rect', shape: { x: a[0], y: a[1], width: b[0] - a[0], height: b[1] - a[1] }, style: { fill: fill } };
  };
}

function bandRender(bands, x0, x1, thin0, thin1) {
  return function (params, api) {
    var b = bands[params.dataIndex];
    var narrow = b[2] === 'stalk' || b[2] === 'hatchThin';
    var p = api.coord([narrow ? thin0 : x0, b[0]]);
    var q = api.coord([narrow ? thin1 : x1, b[1]]);
    return {
      type: 'rect',
      shape: { x: p[0], y: p[1], width: q[0] - p[0], height: q[1] - p[1] },
      style: { fill: stains[b[2]](), stroke: '#1a1a1a', lineWidth: 2.5 }
    };
  };
}

function geneRender(params, api) {
  var g = genes[params.dataIndex];
  var x = laneX[g[1]];
  var foot = api.coord([x, g[2]]);
  var t = api.coord([x - .085, g[3]]);
  var u = api.coord([x - .05, g[4]]);
  return {
    type: 'group',
    children: [
      { type: 'rect', shape: { x: t[0], y: t[1], width: u[0] - t[0], height: Math.max(u[1] - t[1], 3) }, style: { fill: '#bdbdbd' } },
      { type: 'text', x: foot[0], y: foot[1], rotation: Math.PI / 2,
        style: { text: g[0], fill: geneColors[g[5]], font: '29px ' + FONT, align: 'left', verticalAlign: 'middle' } }
    ]
  };
}

function zoomBandRender(params, api) {
  var p = api.coord([-2.21, zoomBandMb[params.dataIndex]]);
  return { type: 'text', x: p[0], y: p[1], style: { text: zoomBandNames[params.dataIndex], fill: '#cfcfcf', font: '27px ' + FONT, align: 'left', verticalAlign: 'middle' } };
}

function guide(y, x0, x1, dashed) {
  return [{ coord: [x0, y], lineStyle: { type: dashed ? [7, 3] : 'solid', color: '#0000ff', width: 3 } }, { coord: [x1, y] }];
}

var axisLine = { show: true, onZero: false, lineStyle: { color: '#444', width: 3 } };
var axisTick = { show: true, length: 13, lineStyle: { color: '#444', width: 2.5 } };
var gridLine = { show: true, lineStyle: { color: '#c0c0c0', width: 2 } };
var tickFont = { color: '#111', fontFamily: FONT, fontSize: 33 };

var option = {
  animation: false,
  backgroundColor: '#fff',
  grid: [
    { left: 158, top: 32, width: 1184, height: 1892 },
    { left: 1563, top: 32, width: 1292, height: 1892 }
  ],
  xAxis: [
    { gridIndex: 0, type: 'value', min: -2.3, max: 2.2, axisLine: axisLine,
      axisTick: Object.assign({ customValues: xTicks }, axisTick), splitLine: gridLine,
      axisLabel: Object.assign({ customValues: xTicks, margin: 20, showMinLabel: true, showMaxLabel: true }, tickFont) },
    { gridIndex: 1, type: 'value', min: -2.392, max: 2.133, axisLine: axisLine,
      axisTick: Object.assign({ customValues: xTicks }, axisTick), splitLine: gridLine,
      axisLabel: Object.assign({ customValues: xTicks, margin: 20, showMinLabel: true, showMaxLabel: true }, tickFont) }
  ],
  yAxis: [
    { gridIndex: 0, position: 'left', type: 'value', inverse: true, min: 0, max: 102.88, axisLine: axisLine,
      axisTick: Object.assign({ customValues: bandTicks }, axisTick), splitLine: { show: false },
      axisLabel: Object.assign({ customValues: bandTicks, margin: 18,
        formatter: function (v) { return bandNames[bandTicks.indexOf(v)] || ''; } }, tickFont) },
    { gridIndex: 1, position: 'left', type: 'value', inverse: true, min: 20.23, max: 33.51, axisLine: axisLine,
      axisTick: Object.assign({ customValues: mbTicks }, axisTick),
      splitLine: { show: true, lineStyle: { color: '#c0c0c0', width: 3 } },
      axisLabel: Object.assign({ customValues: mbTicks, margin: 22,
        formatter: function (v) { return v.toFixed(1) + ' Mb'; } }, tickFont, { fontSize: 36 }) },
    { gridIndex: 1, position: 'left', type: 'value', inverse: true, min: 20.23, max: 33.51, axisLine: { show: false, onZero: false },
      axisTick: { show: true, length: 6, customValues: mbMinorTicks, lineStyle: { color: '#444', width: 2.5 } },
      axisLabel: { show: false }, splitLine: { show: false } },
    { gridIndex: 0, position: 'left', type: 'value', inverse: true, min: 0, max: 102.88, axisLine: { show: false, onZero: false },
      axisTick: { show: true, length: 13, customValues: thickBandTicks, lineStyle: { color: '#444', width: 6 } },
      axisLabel: { show: false }, splitLine: { show: false } }
  ],
  series: [
    { type: 'custom', name: 'window', xAxisIndex: 0, yAxisIndex: 0, z: 1, silent: true,
      renderItem: rectRender('rgba(128,128,255,0.24)'), data: [[-2.28, 2.19, windowStart, windowEnd]],
      encode: { x: [0, 1], y: [2, 3] } },
    { type: 'custom', name: 'segments left', xAxisIndex: 0, yAxisIndex: 0, z: 2, silent: true,
      renderItem: rectRender(segColor), data: leftSegments, encode: { x: [0, 1], y: [2, 3] } },
    { type: 'custom', name: 'segments right', xAxisIndex: 1, yAxisIndex: 1, z: 2, silent: true, clip: true,
      renderItem: rectRender(segColor), data: rightSegments, encode: { x: [0, 1], y: [2, 3] } },
    { type: 'custom', name: 'ideogram left', xAxisIndex: 0, yAxisIndex: 0, z: 3, silent: true, clip: true,
      renderItem: bandRender(leftBands, -2.232, -2.072, -2.179, -2.129), data: leftBands, encode: { y: [0, 1] } },
    { type: 'custom', name: 'ideogram right', xAxisIndex: 1, yAxisIndex: 1, z: 3, silent: true, clip: true,
      renderItem: bandRender(rightBands, -2.388, -2.236, -2.337, -2.288), data: rightBands, encode: { y: [0, 1] } },
    { type: 'custom', name: 'genes', xAxisIndex: 1, yAxisIndex: 1, z: 3, silent: true, clip: true,
      renderItem: geneRender, data: genes.map(function (g) { return [laneX[g[1]], g[2]]; }) },
    { type: 'custom', name: 'band names', xAxisIndex: 1, yAxisIndex: 1, z: 3, silent: true,
      renderItem: zoomBandRender, data: zoomBandMb.map(function (m) { return [-2.21, m]; }) },
    { type: 'scatter', name: 'loss left', xAxisIndex: 0, yAxisIndex: 0, z: 4, symbol: plus, symbolSize: [8, 9.5], itemStyle: { color: '#ff2a2a', opacity: 1 }, data: leftRed, silent: true },
    { type: 'scatter', name: 'gain left', xAxisIndex: 0, yAxisIndex: 0, z: 4, symbol: plus, symbolSize: [8, 9.5], itemStyle: { color: '#3c3cff', opacity: 1 }, data: leftBlue, silent: true },
    { type: 'scatter', name: 'loss right', xAxisIndex: 1, yAxisIndex: 1, z: 4, symbol: plus, symbolSize: [8, 9.5], itemStyle: { color: '#ff2a2a', opacity: 1 }, data: rightRed, silent: true },
    { type: 'scatter', name: 'gain right', xAxisIndex: 1, yAxisIndex: 1, z: 4, symbol: plus, symbolSize: [8, 9.5], itemStyle: { color: '#3c3cff', opacity: 1 }, data: rightBlue, silent: true },
    { type: 'line', name: 'guides left', xAxisIndex: 0, yAxisIndex: 0, z: 5, data: [], silent: true,
      markLine: { silent: true, symbol: 'none', animation: false, label: { show: false }, z: 5, data: [
        guide(windowStart, -2.28, 2.19, true), guide(windowEnd, -2.28, 2.19, true), guide(cursorLeft, -2.28, 2.19, false)
      ] } },
    { type: 'line', name: 'guide right', xAxisIndex: 1, yAxisIndex: 1, z: 5, data: [], silent: true,
      markLine: { silent: true, symbol: 'none', animation: false, label: { show: false }, z: 5, data: [
        guide(cursorRight, -2.236, 2.133, false)
      ] } }
  ],
  // window frame of the screenshot
  graphic: { elements: [
    { type: 'rect', shape: { x: 27, y: 17, width: 1323, height: 12 }, style: { fill: '#e6e8ec' } },
    { type: 'rect', shape: { x: 1373, y: 17, width: 1482, height: 12 }, style: { fill: '#85a0bc' } },
    { type: 'rect', shape: { x: 20, y: 17, width: 7, height: 1986 }, style: { fill: '#bcc0c8' } },
    { type: 'rect', shape: { x: 1350, y: 17, width: 3, height: 1968 }, style: { fill: '#cfcfcf' } },
    { type: 'rect', shape: { x: 1362, y: 17, width: 11, height: 1976 }, style: { fill: '#b4b4b4' } },
    { type: 'rect', shape: { x: 27, y: 1984, width: 2828, height: 3 }, style: { fill: '#d6d6d6' } },
    { type: 'rect', shape: { x: 20, y: 1993, width: 2835, height: 3 }, style: { fill: '#9c9c9c' } },
    { type: 'rect', shape: { x: 20, y: 1996, width: 2835, height: 7 }, style: { fill: '#c6c6c6' } },
    { type: 'rect', shape: { x: 914, y: 17, width: 47, height: 3 }, style: { fill: '#5580aa' } },
    { type: 'rect', shape: { x: 977, y: 17, width: 25, height: 5 }, style: { fill: '#ee1122' } },
    { type: 'rect', shape: { x: 1038, y: 17, width: 42, height: 3 }, style: { fill: '#111' } },
    { type: 'rect', shape: { x: 1102, y: 17, width: 28, height: 5 }, style: { fill: '#2288cc' } }
  ] }
};
chart.setOption(option);
</script>
</body>
</html>
